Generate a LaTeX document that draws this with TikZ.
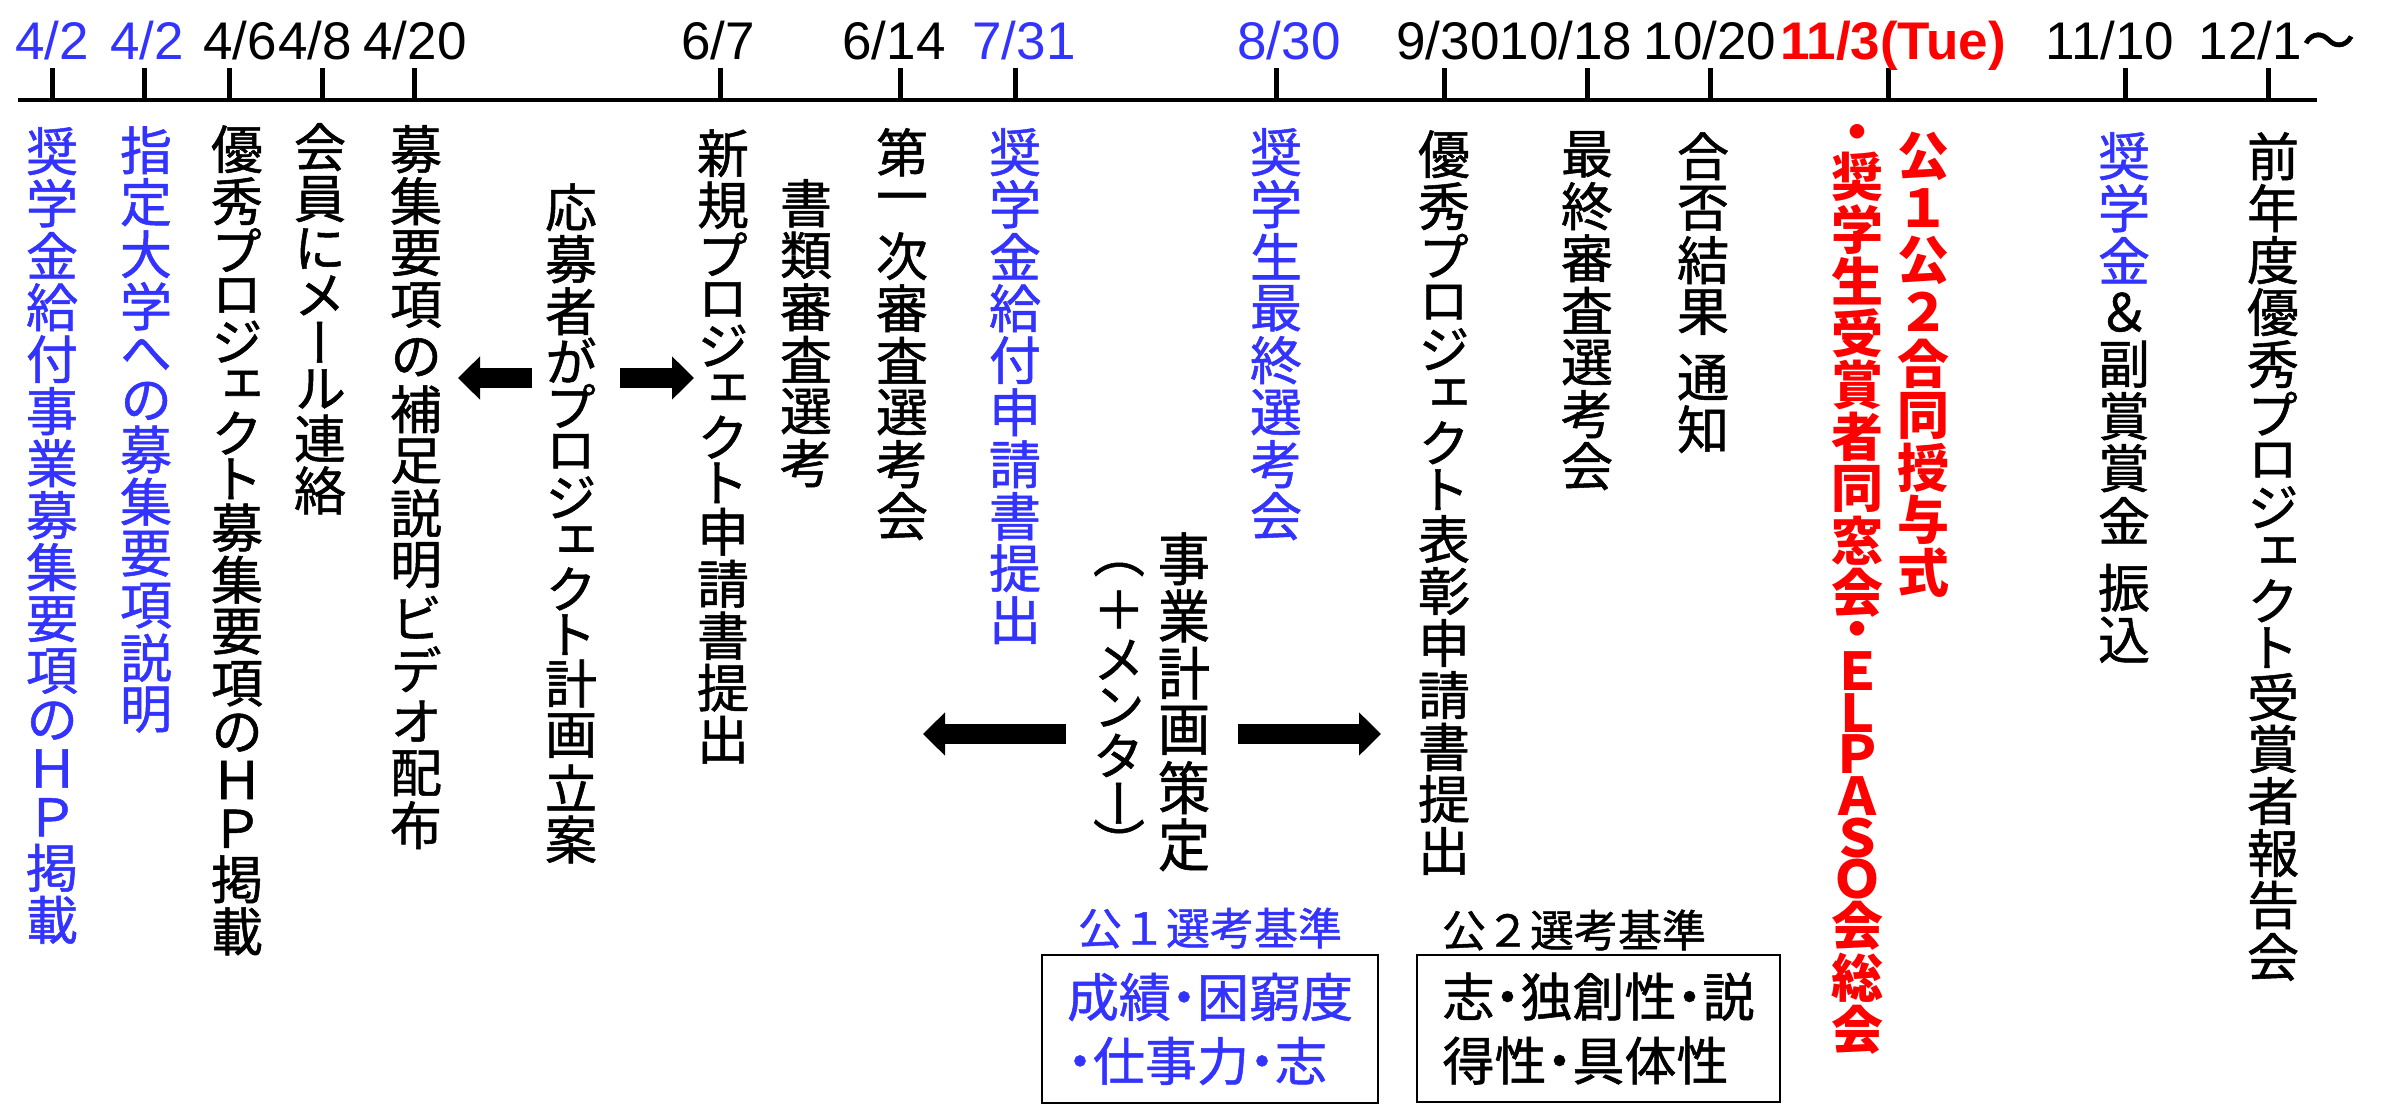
\documentclass[tikz,border=0pt]{standalone}
\usepackage{fontspec}
\setmainfont{Liberation Sans}
\newfontfamily\cjk[FakeBold=1]{Noto Sans CJK JP}
\newfontfamily\cjkv[RawFeature={+vert},FakeBold=1]{Noto Sans CJK JP}
\newfontfamily\cjkvb[RawFeature={+vert}]{Noto Sans CJK JP}
\usetikzlibrary{arrows.meta}
\definecolor{cblue}{RGB}{51,51,255}
\definecolor{cred}{RGB}{255,0,0}
% one character in a vertical cell of height #1 em
\newcommand\vc[2][1]{\hbox to 1em{\hss\vbox to #1em{\vss\hbox{#2}\vss}\hss}}
\ExplSyntaxOn
\NewDocumentCommand\vm{O{1}m}{\tl_map_inline:nn{#2}{\vc[#1]{##1}}}
\ExplSyntaxOff
\newcommand\vcol[1]{\vbox{\offinterlineskip#1}}
\newcommand\nd{\makebox[0.5em]{・}}
\tikzset{
  vcolumn/.style={anchor=north, inner sep=0pt, font=\cjkv\fontsize{52}{52}\selectfont},
  redcol/.style={vcolumn, text=cred, font=\cjkvb\bfseries\fontsize{52}{52}\selectfont},
  datelbl/.style={anchor=base, inner sep=0pt, font=\fontsize{53}{53}\selectfont},
  tickline/.style={line width=5pt},
  axis/.style={line width=4pt},
  blk/.style={line width=20pt, -{Triangle[length=22pt,width=42pt]}},
  critlbl/.style={inner sep=0pt, font=\cjk\fontsize{44}{44}\selectfont},
  critbox/.style={draw, line width=2.5pt, inner sep=0pt, align=left,
    font=\cjk\fontsize{52}{64}\selectfont}
}
\begin{document}
\begin{tikzpicture}[x=1pt,y=-1pt]
\fill[white] (0,0) rectangle (2382,1110);
\useasboundingbox (0,0) rectangle (2382,1110);
% timeline
\coordinate (tl0) at (18,100);
\coordinate (tl1) at (2317,100);
\draw[axis] (tl0) -- (tl1);
\foreach \x in {52,144,229,322,414,720,900,1015,1276,1444,1587,1710,1888,2125,2268}
  \draw[tickline] (\x,68) -- (\x,100);
% dates
\node[datelbl, text=cblue] (d1) at (52,60) {4/2};
\node[datelbl, text=cblue] (d2) at (147,60) {4/2};
\node[datelbl] (d3) at (240,60) {4/6};
\node[datelbl] (d4) at (315,60) {4/8};
\node[datelbl] (d5) at (415,60) {4/20};
\node[datelbl] (d6) at (718,60) {6/7};
\node[datelbl] (d7) at (894,60) {6/14};
\node[datelbl, text=cblue] (d8) at (1024,60) {7/31};
\node[datelbl, text=cblue] (d9) at (1289,60) {8/30};
\node[datelbl] (d10) at (1448,60) {9/30};
\node[datelbl] (d11) at (1566,60) {10/18};
\node[datelbl] (d12) at (1710,60) {10/20};
\node[datelbl, text=cred, font=\bfseries\fontsize{53}{53}\selectfont] (d13) at (1893,60) {11/3(Tue)};
\node[datelbl] (d14) at (2110,60) {11/10};
\node[datelbl] (d15) at (2277,60) {12/1{\cjk ～}};
% vertical texts
\node[vcolumn, text=cblue] (c1) at (52,125) {\vcol{\vm{奨学金給付事業募集要項}\vm[.9]{の}\vm[.94]{ＨＰ}\vm{掲載}}};
\node[vcolumn, text=cblue] (c2) at (146,124) {\vcol{\vm{指定大学}\vm[.88]{への}\vm{募集要項説明}}};
\node[vcolumn] (c3) at (237,123) {\vcol{\vm{優秀}\vm[.88]{プロジェクト}\vm{募集要項}\vm[.88]{の}\vm[.94]{ＨＰ}\vm{掲載}}};
\node[vcolumn] (c4) at (320,121) {\vcol{\vm{会員}\vm[.9]{にメール}\vm{連絡}}};
\node[vcolumn] (c5) at (416,123) {\vcol{\vm{募集要項の補足説明ビデオ配布}}};
\node[vcolumn] (c6) at (571,181) {\vcol{\vm{応募者}\vm[.88]{がプロジェクト}\vm{計画立案}}};
\node[vcolumn] (c7) at (723,127) {\vcol{\vm{新規}\vm[.88]{プロジェクト}\vm{申請書提出}}};
\node[vcolumn] (c8) at (806,177) {\vcol{\vm{書類審査選考}}};
\node[vcolumn] (c9) at (902,126) {\vcol{\vm{第一次審査選考会}}};
\node[vcolumn, text=cblue] (c10) at (1015,126) {\vcol{\vm{奨学金給付申請書提出}}};
\node[vcolumn] (c11) at (1184,530) {\scalebox{1}[1.1]{\vcol{\vm{事業計画策定}}}};
\node[vcolumn] (c12) at (1119,555) {\vcol{\vc[.55]{（}\vm{＋}\vm[.92]{メンター}\vc[.55]{）}}};
\node[vcolumn, text=cblue] (c13) at (1276,126) {\vcol{\vm{奨学生最終選考会}}};
\node[vcolumn] (c14) at (1444,128) {\vcol{\vm{優秀}\vm[.9]{プロジェクト}\vm{表彰申請書提出}}};
\node[vcolumn] (c15) at (1587,128) {\vcol{\vm{最終審査選考会}}};
\node[vcolumn] (c16) at (1703,130) {\vcol{\vm{合否結果}\vc[.25]{}\vm{通知}}};
\node[redcol] (c17) at (1923,130) {\vcol{\vm{公１公２合同授与式}}};
\node[redcol] (c18) at (1857,125) {\vcol{\vc[.5]{・}\vm{奨学生受賞者同窓会}\vc[.6]{・}\vm[.8]{ＥＬＰＡＳＯ}\vm{会総会}}};
\node[vcolumn] (c19) at (2124,130) {\vcol{{\color{cblue}\vm{奨学金}}\vm{＆副賞賞金}\vc[.3]{}\vm{振込}}};
\node[vcolumn] (c20) at (2273,130) {\vcol{\vm{前年度優秀}\vm[.9]{プロジェクト}\vm{受賞者報告会}}};
% arrows
\coordinate (a1l) at (532,378); \coordinate (a1lt) at (458,378);
\coordinate (a1r) at (620,378); \coordinate (a1rt) at (694,378);
\coordinate (a2l) at (1066,734); \coordinate (a2lt) at (923,734);
\coordinate (a2r) at (1238,734); \coordinate (a2rt) at (1381,734);
\draw[blk] (a1l) -- (a1lt);
\draw[blk] (a1r) -- (a1rt);
\draw[blk] (a2l) -- (a2lt);
\draw[blk] (a2r) -- (a2rt);
% criteria
\node[critlbl, text=cblue] (k1) at (1210,928) {公１選考基準};
\node[critlbl] (k2) at (1574,930) {公２選考基準};
\node[critbox, text=cblue, minimum width=336pt, minimum height=148pt] (b1) at (1210,1029) {成績\nd 困窮度\\\nd 仕事力\nd 志};
\node[critbox, minimum width=363pt, minimum height=147pt] (b2) at (1598.5,1028.5) {志\nd 独創性\nd 説\\得性\nd 具体性};
\end{tikzpicture}
\end{document}
